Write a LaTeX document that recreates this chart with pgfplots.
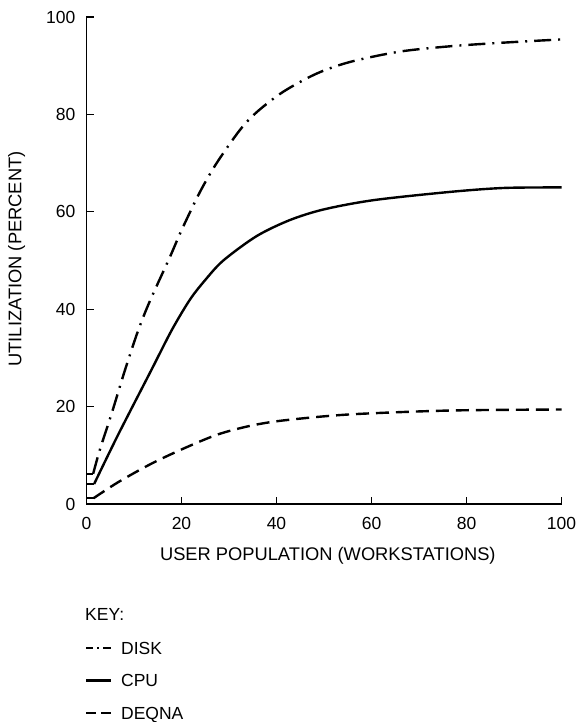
\documentclass[border=0pt]{standalone}
\usepackage{fontspec}
\setmainfont{Liberation Sans}
\usepackage{pgfplots}
\pgfplotsset{compat=1.18}
\begin{document}
\fontsize{17.5}{21}\selectfont
\begin{tikzpicture}
\path[use as bounding box] (-86.5pt,-218pt) rectangle (495.5pt,504pt);
\begin{axis}[
  at={(0pt,0pt)}, anchor=south west,
  scale only axis, width=475pt, height=487pt,
  xmin=0, xmax=100, ymin=0, ymax=100,
  axis x line=bottom, axis y line=left,
  axis line style={-, line width=1.3pt, black},
  xtick={0,20,...,100}, ytick={0,20,...,100},
  tick align=inside, major tick length=7pt,
  tick style={line width=1.3pt, black},
  /pgf/number format/assume math mode=true,
  ticklabel style={font=\fontsize{17.5}{21}\selectfont},
  xticklabel style={inner sep=0pt, anchor=north, yshift=-13pt, font=\fontsize{17.5}{21}\selectfont},
  yticklabel style={inner sep=0pt, anchor=east, xshift=-11pt, font=\fontsize{17.5}{21}\selectfont},
  xlabel={USER POPULATION (WORKSTATIONS)},
  ylabel={UTILIZATION (PERCENT)},
  label style={font=\fontsize{18.3}{22}\selectfont},
  xlabel style={at={(axis description cs:0.508,-0.107)}, anchor=center, inner sep=0pt},
  ylabel style={at={(axis description cs:-0.147,0.503)}, anchor=center, inner sep=0pt},
  legend style={draw=none, fill=none, at={(axis description cs:-0.0032,-0.2828)}, anchor=north west,
    inner sep=0pt, outer sep=0pt, row sep=20pt, column sep=9pt,
    nodes={inner sep=0pt, text height=12.5pt, text depth=0pt},
    font=\fontsize{17.5}{21}\selectfont},
  legend cell align=left,
  legend image code/.code={\draw[#1] (0pt,0pt) -- (25pt,0pt);},
]
% DISK
\addplot[black, line width=2.4pt, forget plot] coordinates {(0,6.2) (1.4,6.2)};
\addplot[black, line width=2.4pt, smooth, tension=0.5, dash pattern=on 17pt off 7pt on 2pt off 7pt, forget plot] coordinates {
(1.4,6.2) (2.8,11.1) (5.3,18.6) (8.1,27.5) (10.9,35.7) (13.4,41.8) (17.6,50.8) (20,56.2) (23.9,64.1) (27.4,70.0) (32.3,76.8) (36,80.6) (41.5,84.7) (48.5,88.4) (55.6,90.8) (66,92.9) (76.7,94.0) (87.2,94.7) (100,95.4)
};
% CPU
\addplot[black, line width=2.4pt, forget plot] coordinates {(0,4.1) (1.6,4.1)};
\addplot[black, line width=2.4pt, smooth, tension=0.5, forget plot] coordinates {
(1.6,4.1) (6.7,14.3) (13.7,27.6) (18,35.8) (21.8,42.0) (25,46.0) (28.8,50.0) (35.8,55.0) (42.8,58.3) (50,60.5) (60.5,62.4) (76.7,64.1) (88,64.9) (100,65.0)
};
% DEQNA
\addplot[black, line width=2.4pt, forget plot] coordinates {(0,1.2) (1.5,1.2)};
\addplot[black, line width=2.4pt, smooth, tension=0.5, dash pattern=on 13pt off 7pt, forget plot] coordinates {
(1.5,1.2) (6.7,4.5) (13.7,8.3) (20.7,11.5) (27.7,14.3) (34.7,16.1) (41.8,17.2) (55.5,18.4) (76.7,19.2) (100,19.4)
};
\addlegendimage{black, line width=2.2pt, dash pattern=on 7pt off 4pt on 2pt off 4pt on 8pt}
\addlegendentry{DISK}
\addlegendimage{black, line width=2.2pt}
\addlegendentry{CPU}
\addlegendimage{black, line width=2.2pt, dash pattern=on 10pt off 5pt on 10pt}
\addlegendentry{DEQNA}
\end{axis}
\node[anchor=west, inner sep=0pt, font=\fontsize{17.5}{21}\selectfont] at (-1.5pt,-110pt) {KEY:};
\end{tikzpicture}
\end{document}
